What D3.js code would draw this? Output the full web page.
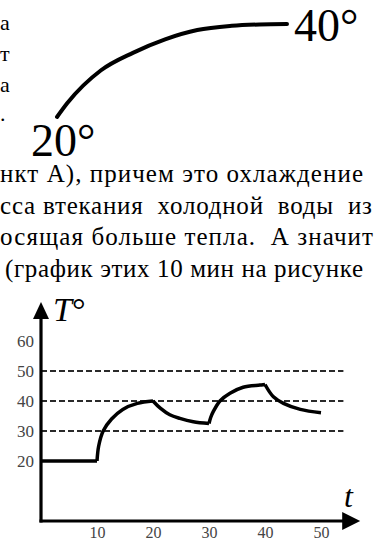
<!DOCTYPE html>
<html>
<head>
<meta charset="utf-8">
<script src="https://cdn.jsdelivr.net/npm/d3@7/dist/d3.min.js"></script>
<style>
  html, body { margin: 0; padding: 0; background: #fff; }
  svg { display: block; }
</style>
</head>
<body>
<svg id="chart" width="374" height="541"></svg>
<script>
// ---------- data ----------
// small sketch at top: heating from 20° to 40°
const arcTime = [0, 0.45, 1.9, 3.3, 4.7, 6.1, 7.6, 8.8, 10];
const arcTemp = [20, 23, 30, 33.8, 36.7, 38.7, 39.6, 39.9, 40];
const arcLabels = ["20°", "40°"];

// fragments of the cut-off text
const leftFragments = ["а", "т", "а", "."];
const bodyLines = [
  "нкт А), причем это охлаждение",
  "сса втекания  холодной  воды  из",
  "осящая больше тепла.  А значит",
  "(график этих 10 мин на рисунке"
];

// main chart
const yTicks = [20, 30, 40, 50, 60];
const xTicks = [10, 20, 30, 40, 50];
const gridLevels = [30, 40, 50];
const axisMaxTime = 57;   // arrow tip of t axis
const axisMaxTemp = 73;   // arrow tip of T axis

const flatTime  = [0, 10];
const flatTemp  = [20, 20];
const heat1Time = [10, 10.3, 11.1, 12.6, 14.6, 17.2, 20];
const heat1Temp = [20, 25, 30, 34, 37.2, 39.2, 40];
const cool1Time = [20, 21.3, 23, 24.8, 27.2, 30];
const cool1Temp = [40, 37.6, 35.4, 34.2, 33.1, 32.5];
const heat2Time = [30, 30.3, 30.8, 32, 33.75, 36.1, 39.1, 40];
const heat2Temp = [32.5, 34.5, 36.6, 40.1, 42.6, 44.6, 45.3, 45.5];
const cool2Time = [40, 41.5, 43.3, 46.3, 50];
const cool2Temp = [45.5, 41.4, 39.2, 37.2, 36.1];

// ---------- drawing ----------
const svg = d3.select("#chart");
const serif = "'Liberation Serif', 'Times New Roman', serif";

// left text fragments
svg.selectAll("text.frag").data(leftFragments).join("text")
  .attr("class", "frag")
  .attr("x", 0).attr("y", (d, i) => [30, 61, 92, 121][i])
  .attr("font-family", serif).attr("font-size", 22)
  .text(d => d);

// arc sketch
const ax = d3.scaleLinear().domain([0, 10]).range([57, 287]);
const ay = d3.scaleLinear().domain([20, 40]).range([117, 24]);
const arcPts = arcTime.map((t, i) => [t, arcTemp[i]]);
svg.append("path")
  .attr("d", d3.line().x(d => ax(d[0])).y(d => ay(d[1])).curve(d3.curveMonotoneX)(arcPts))
  .attr("fill", "none").attr("stroke", "#000").attr("stroke-width", 4)
  .attr("stroke-linecap", "round");
svg.append("text").attr("x", 31).attr("y", 156)
  .attr("font-family", serif).attr("font-size", 46).text(arcLabels[0]);
svg.append("text").attr("x", 294).attr("y", 41)
  .attr("font-family", serif).attr("font-size", 46).text(arcLabels[1]);

// body text (justified, cut on the left)
const lineBox = [[0, 363, 182], [0, 372, 214], [0, 373, 245], [5, 363, 277]];
svg.selectAll("text.body").data(bodyLines).join("text")
  .attr("class", "body")
  .attr("x", (d, i) => lineBox[i][0])
  .attr("y", (d, i) => lineBox[i][2])
  .attr("font-family", serif).attr("font-size", 25)
  .attr("xml:space", "preserve")
  .style("white-space", "pre")
  .attr("textLength", (d, i) => lineBox[i][1] - lineBox[i][0])
  .attr("lengthAdjust", "spacing")
  .text(d => d);

// main chart scales
const x = d3.scaleLinear().domain([0, 50]).range([41, 321]);
const y = d3.scaleLinear().domain([0, 60]).range([521, 341]);

// dashed grid levels
svg.selectAll("line.grid").data(gridLevels).join("line")
  .attr("class", "grid")
  .attr("x1", x(0)).attr("x2", x(54))
  .attr("y1", d => y(d)).attr("y2", d => y(d))
  .attr("stroke", "#2a2a2a").attr("stroke-width", 2)
  .attr("stroke-dasharray", "6,3");

// axes with tick labels only
const yAxis = d3.axisLeft(y).tickValues(yTicks).tickSize(0).tickPadding(7);
const gy = svg.append("g").attr("transform", `translate(${x(0)},0)`).call(yAxis);
gy.select(".domain").remove();
gy.selectAll("text").attr("font-family", serif).attr("font-size", 17).attr("fill", "#444");

const xAxis = d3.axisBottom(x).tickValues(xTicks).tickSize(0).tickPadding(6);
const gx = svg.append("g").attr("transform", `translate(0,${y(0)})`).call(xAxis);
gx.select(".domain").remove();
gx.selectAll("text").attr("font-family", serif).attr("font-size", 16).attr("fill", "#444");

// axis lines
svg.append("line").attr("x1", x(0)).attr("x2", x(0))
  .attr("y1", y(0) + 1.5).attr("y2", y(axisMaxTemp) + 10)
  .attr("stroke", "#000").attr("stroke-width", 3.2);
svg.append("line").attr("x1", x(0) - 1.5).attr("x2", x(axisMaxTime) - 10)
  .attr("y1", y(0)).attr("y2", y(0))
  .attr("stroke", "#000").attr("stroke-width", 3.2);
// arrow heads
const ty = y(axisMaxTemp), tx = x(axisMaxTime);
svg.append("path")
  .attr("d", `M${x(0)},${ty} L${x(0) - 8},${ty + 17} L${x(0) + 8},${ty + 17} Z`)
  .attr("fill", "#000");
svg.append("path")
  .attr("d", `M${tx},${y(0)} L${tx - 18},${y(0) - 9} L${tx - 18},${y(0) + 9} Z`)
  .attr("fill", "#000");

// axis titles
svg.append("text").attr("x", 53).attr("y", 321)
  .attr("font-family", serif).attr("font-size", 34)
  .call(t => {
    t.append("tspan").attr("font-style", "italic").text("T");
    t.append("tspan").text("°");
  });
svg.append("text").attr("x", 344).attr("y", 507)
  .attr("font-family", serif).attr("font-size", 32).attr("font-style", "italic")
  .text("t");

// temperature curve
const segments = [
  [flatTime, flatTemp],
  [heat1Time, heat1Temp],
  [cool1Time, cool1Temp],
  [heat2Time, heat2Temp],
  [cool2Time, cool2Temp]
];
const line = d3.line().x(d => x(d[0])).y(d => y(d[1])).curve(d3.curveCatmullRom.alpha(0.5));
svg.selectAll("path.seg").data(segments).join("path")
  .attr("class", "seg")
  .attr("d", s => line(s[0].map((t, i) => [t, s[1][i]])))
  .attr("fill", "none").attr("stroke", "#000").attr("stroke-width", 3.5)
  .attr("stroke-linejoin", "round").attr("stroke-linecap", "butt");
</script>
</body>
</html>
